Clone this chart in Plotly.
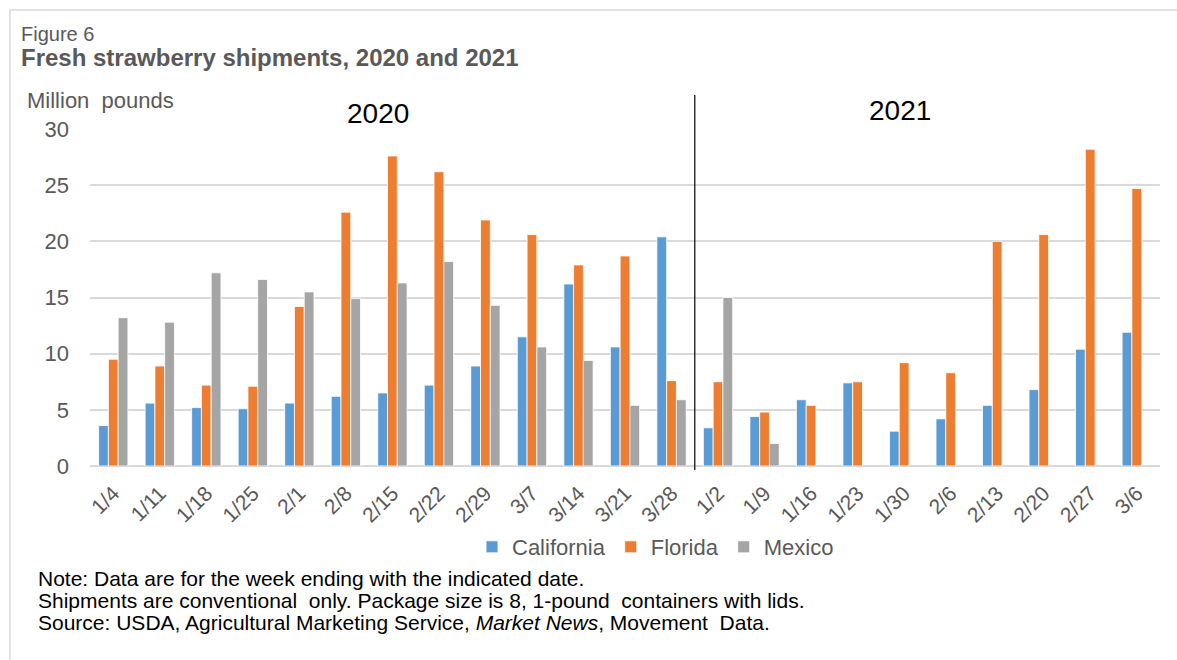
import plotly.graph_objects as go

# Week-ending dates (2020 season, then 2021 season)
weeks_2020 = ["1/4", "1/11", "1/18", "1/25", "2/1", "2/8", "2/15", "2/22",
              "2/29", "3/7", "3/14", "3/21", "3/28"]
weeks_2021 = ["1/2", "1/9", "1/16", "1/23", "1/30", "2/6", "2/13", "2/20",
              "2/27", "3/6"]
weeks = weeks_2020 + weeks_2021

# Shipments, million pounds
california = [3.6, 5.6, 5.2, 5.1, 5.6, 6.2, 6.5, 7.2, 8.9, 11.5, 16.2, 10.6, 20.4,
              3.4, 4.4, 5.9, 7.4, 3.1, 4.2, 5.4, 6.8, 10.4, 11.9]
florida = [9.5, 8.9, 7.2, 7.1, 14.2, 22.6, 27.6, 26.2, 21.9, 20.6, 17.9, 18.7, 7.6,
           7.5, 4.8, 5.4, 7.5, 9.2, 8.3, 20.0, 20.6, 28.2, 24.7]
mexico = [13.2, 12.8, 17.2, 16.6, 15.5, 14.9, 16.3, 18.2, 14.3, 10.6, 9.4, 5.4, 5.9,
          15.0, 2.0, None, None, None, None, None, None, None, None]

y_ticks = [0, 5, 10, 15, 20, 25, 30]

FONT = "Liberation Sans, Arial, sans-serif"
TEXT_GRAY = "#595959"
GRID = "#D9D9D9"

# Pixel-to-paper helpers for the fixed 1177x660 canvas
L, R, T, B = 90, 17, 129, 194
W, H = 1177, 660
PW, PH = W - L - R, H - T - B


def px(x):
    return (x - L) / PW


def py(y):
    return (H - B - y) / PH


fig = go.Figure()
for name, vals, color in [("California", california, "#5B9BD5"),
                          ("Florida", florida, "#ED7D31"),
                          ("Mexico", mexico, "#A5A5A5")]:
    fig.add_trace(go.Bar(
        x=weeks, y=vals, name=name,
        marker=dict(color=color, line=dict(color="rgba(255,255,255,0.8)", width=1)),
    ))

fig.update_layout(
    width=W, height=H,
    margin=dict(l=L, r=R, t=T, b=B),
    paper_bgcolor="white", plot_bgcolor="white",
    barmode="group", bargap=0.37, bargroupgap=0,
    font=dict(family=FONT, color=TEXT_GRAY),
    showlegend=True,
    legend=dict(orientation="h", x=px(472), xanchor="left",
                y=py(547), yanchor="middle",
                font=dict(size=22, color=TEXT_GRAY, family=FONT),
                bgcolor="rgba(0,0,0,0)"),
    xaxis=dict(
        type="category", categoryorder="array", categoryarray=weeks,
        tickangle=-45, tickfont=dict(size=21, color=TEXT_GRAY),
        showgrid=False, showline=False, ticks="", ticklabelstandoff=10,
    ),
    yaxis=dict(
        range=[0, 30], tickvals=y_ticks, ticktext=[str(v) for v in y_ticks],
        tickfont=dict(size=22, color=TEXT_GRAY),
        showgrid=True, gridcolor=GRID, gridwidth=1.6,
        zeroline=True, zerolinecolor=GRID, zerolinewidth=1.6,
        showline=False, ticks="", ticklabelstandoff=20,
    ),
)

# Outer frame around the whole figure
fig.add_shape(type="rect", xref="paper", yref="paper",
              x0=px(10), x1=px(1190), y0=py(690), y1=py(10),
              line=dict(color=GRID, width=1.5), layer="below")

# Divider between the 2020 and 2021 seasons
fig.add_shape(type="line", xref="x", yref="paper",
              x0=len(weeks_2020) - 0.5, x1=len(weeks_2020) - 0.5,
              y0=py(470), y1=py(95), line=dict(color="black", width=1.2))

annotations = [
    dict(text="Figure 6", x=px(19), y=py(34), font=dict(size=20, color=TEXT_GRAY)),
    dict(text="<b>Fresh strawberry shipments, 2020 and 2021</b>", x=px(19), y=py(58),
         font=dict(size=24, color=TEXT_GRAY)),
    dict(text="Million  pounds", x=px(25), y=py(100), font=dict(size=22, color=TEXT_GRAY)),
    dict(text="Note: Data are for the week ending with the indicated date.",
         x=px(36), y=py(578), font=dict(size=21, color="black")),
    dict(text="Shipments are conventional  only. Package size is 8, 1-pound  containers with lids.",
         x=px(36), y=py(600), font=dict(size=21, color="black")),
    dict(text="Source: USDA, Agricultural Marketing Service, <i>Market News</i>, Movement  Data.",
         x=px(36), y=py(622), font=dict(size=21, color="black")),
]
for a in annotations:
    fig.add_annotation(xref="paper", yref="paper", xanchor="left", yanchor="middle",
                       showarrow=False, **a)

for label, cx, cy in [("2020", 377.5, 114), ("2021", 899.5, 110.5)]:
    fig.add_annotation(text=label, xref="paper", yref="paper", x=px(cx), y=py(cy),
                       xanchor="center", yanchor="middle", showarrow=False,
                       font=dict(size=28, color="black"))

fig.write_html("out.html")
